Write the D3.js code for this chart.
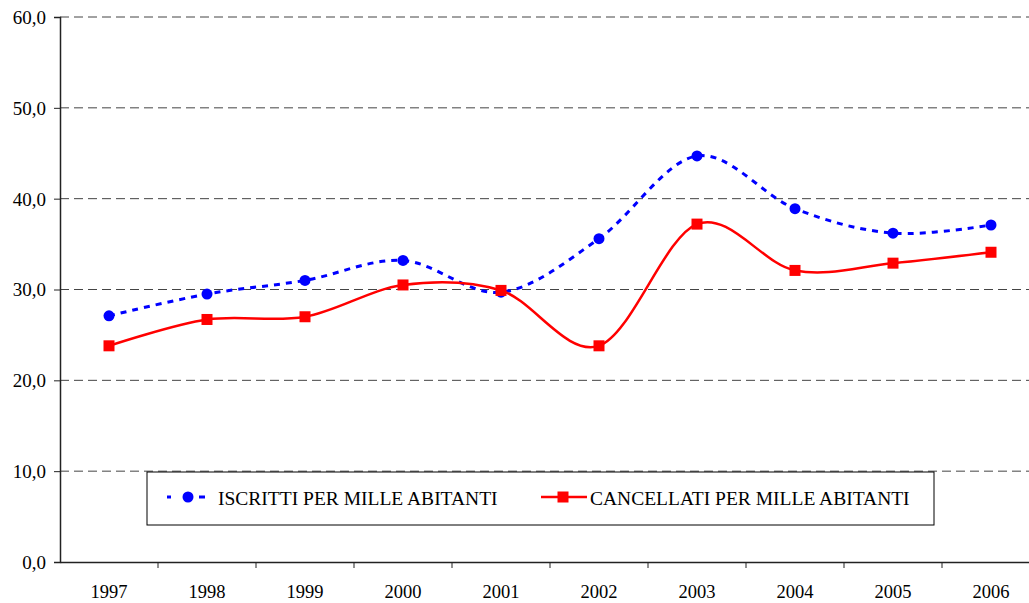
<!DOCTYPE html>
<html>
<head>
<meta charset="utf-8">
<script src="https://cdn.jsdelivr.net/npm/d3@7"></script>
<style>
  body { margin: 0; background: #fff; }
  svg { display: block; }
</style>
</head>
<body>
<svg id="chart" width="1029" height="603"></svg>
<script>
const years = ["1997", "1998", "1999", "2000", "2001", "2002", "2003", "2004", "2005", "2006"];
const iscritti = [27.1, 29.5, 31.0, 33.2, 29.7, 35.6, 44.7, 38.9, 36.2, 37.1];
const cancellati = [23.8, 26.7, 27.0, 30.5, 29.9, 23.8, 37.2, 32.1, 32.9, 34.1];
const yTicks = [0, 10, 20, 30, 40, 50, 60];
const seriesNames = ["ISCRITTI PER MILLE ABITANTI", "CANCELLATI PER MILLE ABITANTI"];

const svg = d3.select("#chart");
const fontFamily = "Liberation Serif, Times New Roman, serif";

const x = d3.scaleBand().domain(years).range([60, 1040]).padding(0);
const y = d3.scaleLinear().domain([0, 60]).range([562, 17]);
const cx = d => x(d) + x.bandwidth() / 2;

const fmt = v => d3.format(".1f")(v).replace(".", ",");

// gridlines
svg.append("g")
    .selectAll("line")
    .data(yTicks.filter(d => d > 0))
    .join("line")
    .attr("x1", 60).attr("x2", 1040)
    .attr("y1", d => y(d)).attr("y2", d => y(d))
    .attr("stroke", "#444")
    .attr("stroke-width", 1)
    .attr("stroke-dasharray", "9,5");

// y axis
const yAxis = svg.append("g")
    .attr("transform", "translate(60,0)")
    .call(d3.axisLeft(y).tickValues(yTicks).tickSize(6).tickFormat(fmt));
yAxis.attr("font-family", fontFamily).attr("font-size", 19);
yAxis.select(".domain").attr("stroke", "#222").attr("stroke-width", 1.5);
yAxis.selectAll(".tick line").attr("stroke", "#222");
yAxis.selectAll(".tick text")
    .attr("x", -14)
    .attr("dy", "0.34em")
    .attr("fill", "#000");

// x axis
const xAxis = svg.append("g")
    .attr("transform", `translate(0,${y(0)})`)
    .call(d3.axisBottom(x).tickSize(0).tickSizeOuter(0));
xAxis.attr("font-family", fontFamily).attr("font-size", 18.5);
xAxis.select(".domain").attr("stroke", "#222").attr("stroke-width", 1.5);
xAxis.selectAll(".tick line").remove();
xAxis.selectAll(".tick text")
    .attr("y", 36).attr("dy", 0)
    .attr("fill", "#000");

// tick marks between categories
svg.append("g")
    .selectAll("line")
    .data(years.slice(1))
    .join("line")
    .attr("x1", d => x(d)).attr("x2", d => x(d))
    .attr("y1", y(0)).attr("y2", y(0) + 6)
    .attr("stroke", "#222");

const line = d3.line()
    .x((d, i) => cx(years[i]))
    .y(d => y(d))
    .curve(d3.curveCatmullRom.alpha(0));

// ISCRITTI
svg.append("path")
    .datum(iscritti)
    .attr("d", line)
    .attr("fill", "none")
    .attr("stroke", "#0000ff")
    .attr("stroke-width", 3)
    .attr("stroke-dasharray", "6,6");

svg.append("g")
    .selectAll("circle")
    .data(iscritti)
    .join("circle")
    .attr("cx", (d, i) => cx(years[i]))
    .attr("cy", d => y(d))
    .attr("r", 5.5)
    .attr("fill", "#0000ff");

// CANCELLATI
svg.append("path")
    .datum(cancellati)
    .attr("d", line)
    .attr("fill", "none")
    .attr("stroke", "#ff0000")
    .attr("stroke-width", 2.5);

svg.append("g")
    .selectAll("rect")
    .data(cancellati)
    .join("rect")
    .attr("x", (d, i) => cx(years[i]) - 5.5)
    .attr("y", d => y(d) - 5.5)
    .attr("width", 11)
    .attr("height", 11)
    .attr("fill", "#ff0000");

// legend
const legend = svg.append("g")
    .attr("font-family", fontFamily)
    .attr("font-size", 19.5);
legend.append("rect")
    .attr("x", 147).attr("y", 472)
    .attr("width", 787).attr("height", 53)
    .attr("fill", "#fff")
    .attr("stroke", "#000")
    .attr("stroke-width", 1);

const ly = 497;
legend.append("line")
    .attr("x1", 167).attr("x2", 171)
    .attr("y1", ly).attr("y2", ly)
    .attr("stroke", "#0000ff").attr("stroke-width", 3);
legend.append("line")
    .attr("x1", 199).attr("x2", 205)
    .attr("y1", ly).attr("y2", ly)
    .attr("stroke", "#0000ff").attr("stroke-width", 3);
legend.append("circle")
    .attr("cx", 188).attr("cy", ly).attr("r", 5.5)
    .attr("fill", "#0000ff");
legend.append("text")
    .attr("x", 218).attr("y", ly + 8)
    .text(seriesNames[0]);

legend.append("line")
    .attr("x1", 541).attr("x2", 587)
    .attr("y1", ly).attr("y2", ly)
    .attr("stroke", "#ff0000").attr("stroke-width", 2.5);
legend.append("rect")
    .attr("x", 563 - 5.5).attr("y", ly - 5.5)
    .attr("width", 11).attr("height", 11)
    .attr("fill", "#ff0000");
legend.append("text")
    .attr("x", 590).attr("y", ly + 8)
    .text(seriesNames[1]);
</script>
</body>
</html>
